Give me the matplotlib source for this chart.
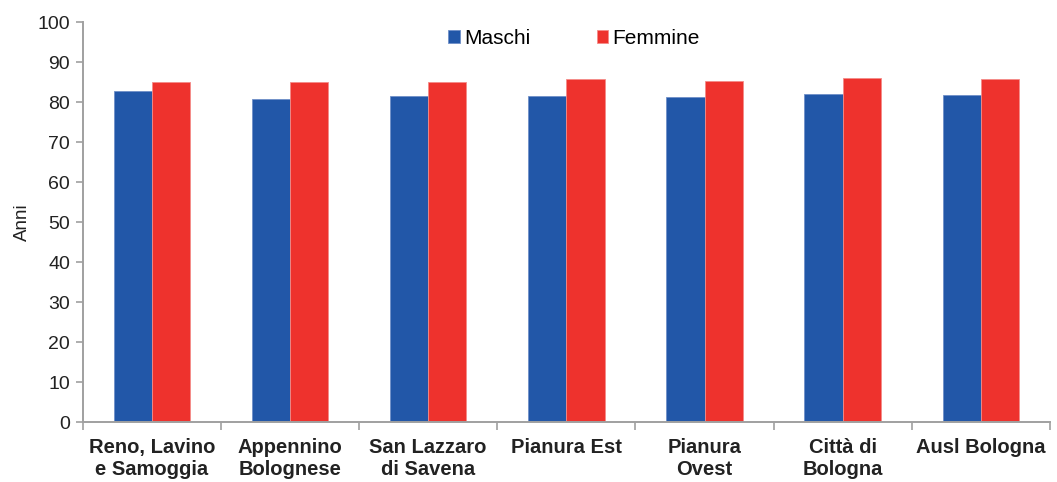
import matplotlib

matplotlib.use("Agg")

import matplotlib.pyplot as plt
import numpy as np

distretti = ["Reno, Lavino\ne Samoggia", "Appennino\nBolognese", "San Lazzaro\ndi Savena",
             "Pianura Est", "Pianura\nOvest", "Città di\nBologna", "Ausl Bologna"]
maschi = [82.8, 80.8, 81.6, 81.5, 81.3, 82.0, 81.8]
femmine = [85.1, 85.1, 85.0, 85.8, 85.3, 86.0, 85.7]

plt.rcParams["font.family"] = ["Liberation Sans", "DejaVu Sans"]

fig = plt.figure(figsize=(10.57, 4.82), dpi=100)
ax = fig.add_axes([82.7 / 1057, 1 - 422.3 / 482, (1050 - 82.7) / 1057, 400 / 482])

x = np.arange(len(distretti))
larghezza = 0.277
ax.bar(x - larghezza / 2, maschi, larghezza, color="#2257A8", edgecolor="#6F8FC8",
       linewidth=0.6, label="Maschi")
ax.bar(x + larghezza / 2, femmine, larghezza, color="#EE322D", edgecolor="#F48C88",
       linewidth=0.6, label="Femmine")

ax.set_xlim(-0.5, len(distretti) - 0.5)
ax.set_ylim(0, 100)
ax.set_yticks(range(0, 101, 10))
ax.tick_params(axis="y", labelsize=14, colors="#A0A0A0", labelcolor="#222222",
               length=5, width=1.2, pad=4)

# Tacche dell'asse X ai confini delle categorie, etichette al centro.
ax.set_xticks(np.arange(-0.5, len(distretti), 1.0))
ax.set_xticklabels([])
ax.tick_params(axis="x", colors="#A0A0A0", length=6, width=1.2)
ax.set_xticks(x, minor=True)
ax.set_xticklabels(distretti, minor=True, fontsize=14.5, fontweight="bold",
                   color="#222222", linespacing=1.22)
ax.tick_params(axis="x", which="minor", length=0, pad=11)

for lato in ["top", "right"]:
    ax.spines[lato].set_visible(False)
for lato in ["left", "bottom"]:
    ax.spines[lato].set_color("#A0A0A0")
    ax.spines[lato].set_linewidth(1.4)

ax.set_ylabel("Anni", fontsize=13.5, color="#222222", labelpad=5)

ax.legend(loc="upper center", bbox_to_anchor=(0.508, 1.03), ncol=2, frameon=False,
          fontsize=15, handlelength=0.55, handleheight=0.55, handletextpad=0.2,
          columnspacing=3.2)

fig.savefig("out.png", dpi=100)
plt.close(fig)
